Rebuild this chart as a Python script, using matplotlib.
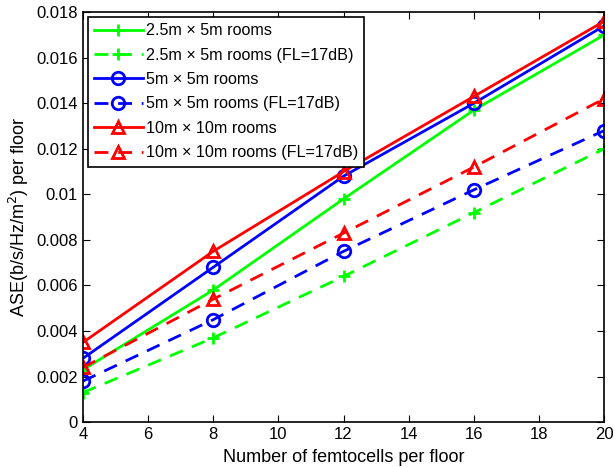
import numpy as np
import matplotlib.pyplot as plt

# number of femtocells per floor
femtos = [4, 8, 12, 16, 20]

ase_25x5 = [0.0023, 0.0058, 0.0098, 0.0137, 0.0170]
ase_25x5_fl = [0.0013, 0.0037, 0.0064, 0.0092, 0.0120]
ase_5x5 = [0.0028, 0.0068, 0.0108, 0.0140, 0.0174]
ase_5x5_fl = [0.0018, 0.0045, 0.0075, 0.0102, 0.0128]
ase_10x10 = [0.0035, 0.0075, 0.0110, 0.0143, 0.0176]
ase_10x10_fl = [0.0024, 0.0054, 0.0083, 0.0112, 0.0142]

labels = ['2.5m × 5m rooms', '2.5m × 5m rooms (FL=17dB)',
          '5m × 5m rooms', '5m × 5m rooms (FL=17dB)',
          '10m × 10m rooms', '10m × 10m rooms (FL=17dB)']

yticks = [0, 0.002, 0.004, 0.006, 0.008, 0.01, 0.012, 0.014, 0.016, 0.018]
ytick_labels = ['0', '0.002', '0.004', '0.006', '0.008', '0.01', '0.012', '0.014', '0.016', '0.018']
xticks = [4, 6, 8, 10, 12, 14, 16, 18, 20]

plt.rcParams['font.family'] = ['Liberation Sans', 'DejaVu Sans']
plt.rcParams['mathtext.fontset'] = 'dejavusans'

fig = plt.figure(figsize=(6.14, 4.67), dpi=100)
ax = fig.add_axes([0.135, 0.096, 0.849, 0.878])

green = (0, 1, 0)
series = [
    (ase_25x5, green, '-', '+'),
    (ase_25x5_fl, green, '--', '+'),
    (ase_5x5, 'b', '-', 'o'),
    (ase_5x5_fl, 'b', '--', 'o'),
    (ase_10x10, 'r', '-', '^'),
    (ase_10x10_fl, 'r', '--', '^'),
]
for (vals, c, ls, m), lab in zip(series, labels):
    ax.plot(femtos, vals, color=c, linestyle=ls, marker=m, lw=2,
            markersize=9, markerfacecolor='none', markeredgecolor=c,
            markeredgewidth=2, dashes=(5, 3.5) if ls == '--' else (None, None),
            label=lab)

ax.set_xlim(4, 20)
ax.set_ylim(0, 0.018)
ax.set_xticks(xticks)
ax.set_yticks(yticks)
ax.set_yticklabels(ytick_labels)
ax.tick_params(direction='in', top=True, right=True, labelsize=12, length=5)
for s in ax.spines.values():
    s.set_linewidth(1.2)

ax.set_xlabel('Number of femtocells per floor', fontsize=13, labelpad=5)
ax.set_ylabel(r'ASE(b/s/Hz/m$^2$) per floor', fontsize=13, labelpad=4)

leg = ax.legend(loc='upper left', fontsize=11.6, frameon=True, fancybox=False,
                edgecolor='black', framealpha=1, handlelength=3.0,
                borderaxespad=0.3, labelspacing=0.58, handletextpad=0.2,
                borderpad=0.4)
leg.get_frame().set_linewidth(1.2)

fig.savefig('out.png', dpi=100)
